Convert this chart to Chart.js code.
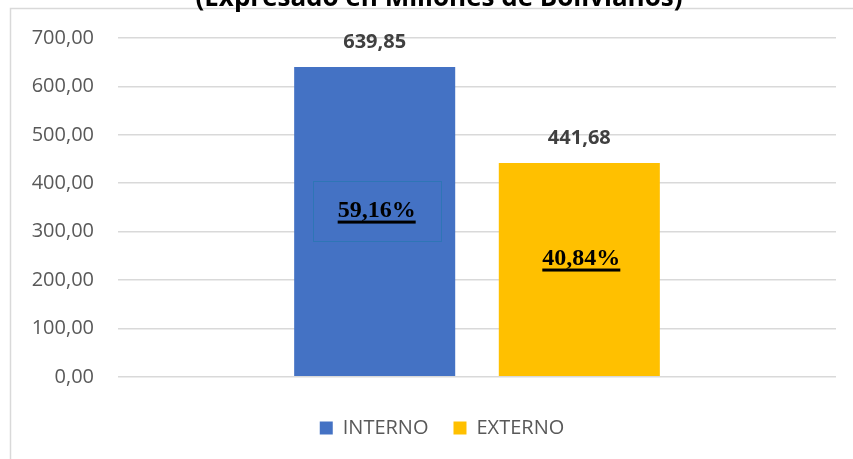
<!DOCTYPE html>
<html>
<head>
<meta charset="utf-8">
<script src="https://cdn.jsdelivr.net/npm/chart.js@4.4.0/dist/chart.umd.min.js"></script>
<style>
	html, body { margin: 0; padding: 0; background: #ffffff; }
	#wrap { width: 853px; height: 459px; }
</style>
</head>
<body>
<div id="wrap"><canvas id="chart" width="853" height="459"></canvas></div>
<script>
const categories = [''];
const seriesNames = ['INTERNO', 'EXTERNO'];
const seriesValues = [639.85, 441.68];
const seriesColors = ['#4472C4', '#FFC000'];
const yTicks = [0, 100, 200, 300, 400, 500, 600, 700];
const titleText = '(Expresado en Millones de Bolivianos)';

const fmt = v => v.toFixed(2).replace('.', ',');
const total = seriesValues.reduce((a, b) => a + b, 0);

// Excel style outer frame and the clipped title
const framePlugin = {
	id: 'frame',
	afterLayout(chart) {
		// centre the legend under the plot like Excel does
		chart.legend.left = 48;
		chart.legend.right = chart.chartArea.right;
	},
	beforeDraw(chart) {
		const ctx = chart.ctx;
		ctx.save();
		ctx.strokeStyle = '#d9d9d9';
		ctx.lineWidth = 1.5;
		ctx.strokeRect(10.5, 8.5, chart.width + 20, chart.height + 20);
		ctx.fillStyle = '#000000';
		ctx.font = 'bold 26px "Open Sans"';
		ctx.textAlign = 'center';
		ctx.textBaseline = 'alphabetic';
		ctx.fillText(titleText, 439, 6);
		ctx.restore();
	}
};

// value above each bar and share inside it
const labelPlugin = {
	id: 'barLabels',
	afterDatasetsDraw(chart) {
		const ctx = chart.ctx;
		ctx.save();
		chart.data.datasets.forEach((ds, i) => {
			const bar = chart.getDatasetMeta(i).data[0];
			const v = ds.data[0];
			ctx.fillStyle = '#404040';
			ctx.font = 'bold 20px "Open Sans"';
			ctx.textAlign = 'center';
			ctx.textBaseline = 'middle';
			ctx.fillText(fmt(v), bar.x, bar.y - 25);

			const pct = fmt(v / total * 100) + '%';
			const midY = (bar.y + bar.base) / 2 - 11;
			ctx.font = 'bold 24px "Liberation Serif"';
			const w = ctx.measureText(pct).width;
			if (i === 0) {
				ctx.strokeStyle = '#2E75B6';
				ctx.lineWidth = 1;
				ctx.strokeRect(Math.round(bar.x - 62) + 0.5, Math.round(midY - 30) + 0.5, 128, 60);
			}
			ctx.fillStyle = '#000000';
			ctx.fillText(pct, bar.x + 2, midY);
			ctx.fillRect(bar.x + 2 - w / 2, midY + 10, w, 3);
		});
		ctx.restore();
	}
};

new Chart(document.getElementById('chart'), {
	type: 'bar',
	data: {
		labels: categories,
		datasets: seriesNames.map((name, i) => ({
			label: name,
			data: [seriesValues[i]],
			backgroundColor: seriesColors[i],
			borderWidth: 0,
			categoryPercentage: 0.57,
			barPercentage: 0.787
		}))
	},
	options: {
		responsive: false,
		animation: false,
		layout: { padding: { top: 38, left: 10, right: 17, bottom: 11 } },
		scales: {
			x: {
				grid: { display: false },
				border: { display: false },
				ticks: { display: false },
				title: { display: true, text: '', font: { size: 1 }, padding: { top: 7, bottom: 0 } }
			},
			y: {
				min: 0,
				max: 700,
				afterFit(scale) { scale.width = 108; },
				afterBuildTicks(scale) { scale.ticks = yTicks.map(v => ({ value: v })); },
				grid: { color: '#d9d9d9', lineWidth: 1.5, drawTicks: false },
				border: { display: false },
				ticks: {
					padding: 24,
					color: '#595959',
					font: { family: 'Open Sans', size: 20 },
					callback: v => fmt(v)
				}
			}
		},
		plugins: {
			legend: {
				position: 'bottom',
				labels: {
					boxWidth: 13,
					boxHeight: 13,
					padding: 25,
					color: '#595959',
					font: { family: 'Open Sans', size: 20 }
				}
			},
			tooltip: { enabled: false }
		}
	},
	plugins: [framePlugin, labelPlugin]
});
</script>
</body>
</html>
